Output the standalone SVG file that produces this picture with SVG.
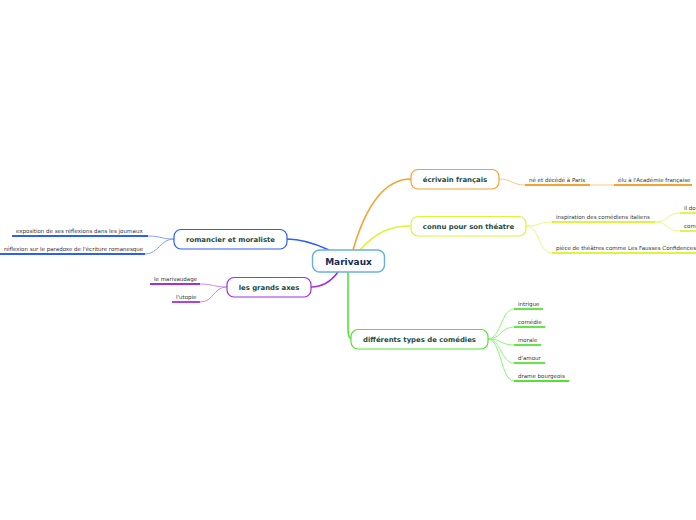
<svg xmlns="http://www.w3.org/2000/svg" width="696" height="520" viewBox="0 0 696 520">
<style>
.n{fill:#fff;stroke-width:1.2}
.t{font-family:"DejaVu Sans",Verdana,sans-serif;font-weight:bold;font-size:6.9px;fill:#1d4a3d;text-anchor:middle}
.s{font-family:"DejaVu Sans",Verdana,sans-serif;font-size:5.5px;fill:#333}
.c{fill:none}
.u{stroke-width:1.8;fill:none}
</style>
<rect width="696" height="520" fill="#fff"/>
<g id="connectors">
<path class="c" d="M353,250 C366,205 385,179 411,179" stroke="#f6a22e" stroke-width="1.6"/>
<path class="c" d="M360,250 C376,232 390,226 411,226" stroke="#dff23c" stroke-width="1.6"/>
<path class="c" d="M329,250 C314,243 300,239 287,239" stroke="#2c5ff2" stroke-width="1.6"/>
<path class="c" d="M338,272 C330,283 320,287 311,287" stroke="#a22ee6" stroke-width="1.6"/>
<path class="c" d="M348,272 L348,328 Q348,339 352,339" stroke="#52e432" stroke-width="1.6"/>
<g stroke="#fbc98a" stroke-width="1">
<path class="c" d="M499,179 C512,179 512,185 525,185"/>
<path class="c" d="M590,185 L614,185"/>
</g>
<g stroke="#eaf77e" stroke-width="1">
<path class="c" d="M526,226 C540,226 538,222 552,222"/>
<path class="c" d="M526,226 C540,226 538,253 552,253"/>
<path class="c" d="M655,222 C668,222 667,213 680,213"/>
<path class="c" d="M655,222 C668,222 667,231 680,231"/>
</g>
<g stroke="#7fa2f7" stroke-width="1">
<path class="c" d="M174,239 C161,239 161,236 148,236"/>
<path class="c" d="M174,239 C160,239 159,254 145,254"/>
</g>
<g stroke="#c98af2" stroke-width="1">
<path class="c" d="M227,287 C213,287 214,284 200,284"/>
<path class="c" d="M227,287 C213,287 214,302 200,302"/>
</g>
<g stroke="#8ef57a" stroke-width="1">
<path class="c" d="M488,339 C501,339 501,309 514,309"/>
<path class="c" d="M488,339 C501,339 501,327 514,327"/>
<path class="c" d="M488,339 C501,339 501,345 514,345"/>
<path class="c" d="M488,339 C501,339 501,363 514,363"/>
<path class="c" d="M488,339 C501,339 501,381 514,381"/>
</g>
</g>
<g id="marivaux">
<rect x="312.5" y="250" width="72" height="22" rx="7" fill="#fbfdff" stroke="#6aaee2" stroke-width="1.4"/>
<text x="348.5" y="264.5" font-family="DejaVu Sans,Verdana,sans-serif" font-weight="bold" font-size="9px" fill="#1a2b52" text-anchor="middle">Marivaux</text>
</g>
<g id="ecrivain">
<rect class="n" x="411" y="169.5" width="88" height="19.5" rx="7" stroke="#f6a22e"/>
<text class="t" x="455" y="181.8">écrivain français</text>
</g>
<g id="connu">
<rect class="n" x="411" y="216.5" width="115" height="19.5" rx="7" stroke="#dff23c"/>
<text class="t" x="468.5" y="228.8">connu pour son théatre</text>
</g>
<g id="romancier">
<rect class="n" x="174" y="229.5" width="113" height="19.5" rx="7" stroke="#2c5ff2"/>
<text class="t" x="230.5" y="241.8">romancier et moraliste</text>
</g>
<g id="axes">
<rect class="n" x="227" y="277.5" width="84" height="19.5" rx="7" stroke="#a22ee6"/>
<text class="t" x="269" y="289.8">les grands axes</text>
</g>
<g id="types">
<rect class="n" x="351" y="329.5" width="137" height="19.5" rx="7" stroke="#52e432"/>
<text class="t" x="419.5" y="341.8">différents types de comédies</text>
</g>
<g id="ne">
<path class="u" d="M525,185 H590" stroke="#f6a22e"/>
<text class="s" x="529" y="181.5">né et décédé à Paris</text>
</g>
<g id="elu">
<path class="u" d="M614,185 H692" stroke="#f6a22e"/>
<text class="s" x="618" y="181.5">élu à l'Académie française</text>
</g>
<g id="inspiration">
<path class="u" d="M552,222 H655" stroke="#dff23c"/>
<text class="s" x="556" y="218.5">inspiration des comédiens italiens</text>
</g>
<g id="ildo">
<path class="u" d="M680,213 H696" stroke="#dff23c"/>
<text class="s" x="684" y="209.5">il do</text>
</g>
<g id="com">
<path class="u" d="M680,231 H696" stroke="#dff23c"/>
<text class="s" x="684" y="227.5">com</text>
</g>
<g id="piece">
<path class="u" d="M552,253 H696" stroke="#dff23c"/>
<text class="s" x="556" y="249.5">pièce de théâtres comme Les Fausses Confidences</text>
</g>
<g id="exposition">
<path class="u" d="M12,236 H148" stroke="#2c5ff2"/>
<text class="s" x="16" y="232.5">exposition de ses réflexions dans les journaux</text>
</g>
<g id="reflexion">
<path class="u" d="M0,254 H145" stroke="#2c5ff2"/>
<text class="s" x="4" y="250.5">réflexion sur le paradoxe de l'écriture romanesque</text>
</g>
<g id="marivaudage">
<path class="u" d="M150,284 H200" stroke="#a22ee6"/>
<text class="s" x="154" y="280.5">le marivaudage</text>
</g>
<g id="utopie">
<path class="u" d="M172,302 H200" stroke="#a22ee6"/>
<text class="s" x="176" y="298.5">l'utopie</text>
</g>
<g id="intrigue">
<path class="u" d="M514,309 H543" stroke="#52e432"/>
<text class="s" x="518" y="305.5">intrigue</text>
</g>
<g id="comedie">
<path class="u" d="M514,327 H545" stroke="#52e432"/>
<text class="s" x="518" y="323.5">comédie</text>
</g>
<g id="morale">
<path class="u" d="M514,345 H541" stroke="#52e432"/>
<text class="s" x="518" y="341.5">morale</text>
</g>
<g id="amour">
<path class="u" d="M514,363 H545" stroke="#52e432"/>
<text class="s" x="518" y="359.5">d'amour</text>
</g>
<g id="drame">
<path class="u" d="M514,381 H569" stroke="#52e432"/>
<text class="s" x="518" y="377.5">drame bourgeois</text>
</g>
</svg>
